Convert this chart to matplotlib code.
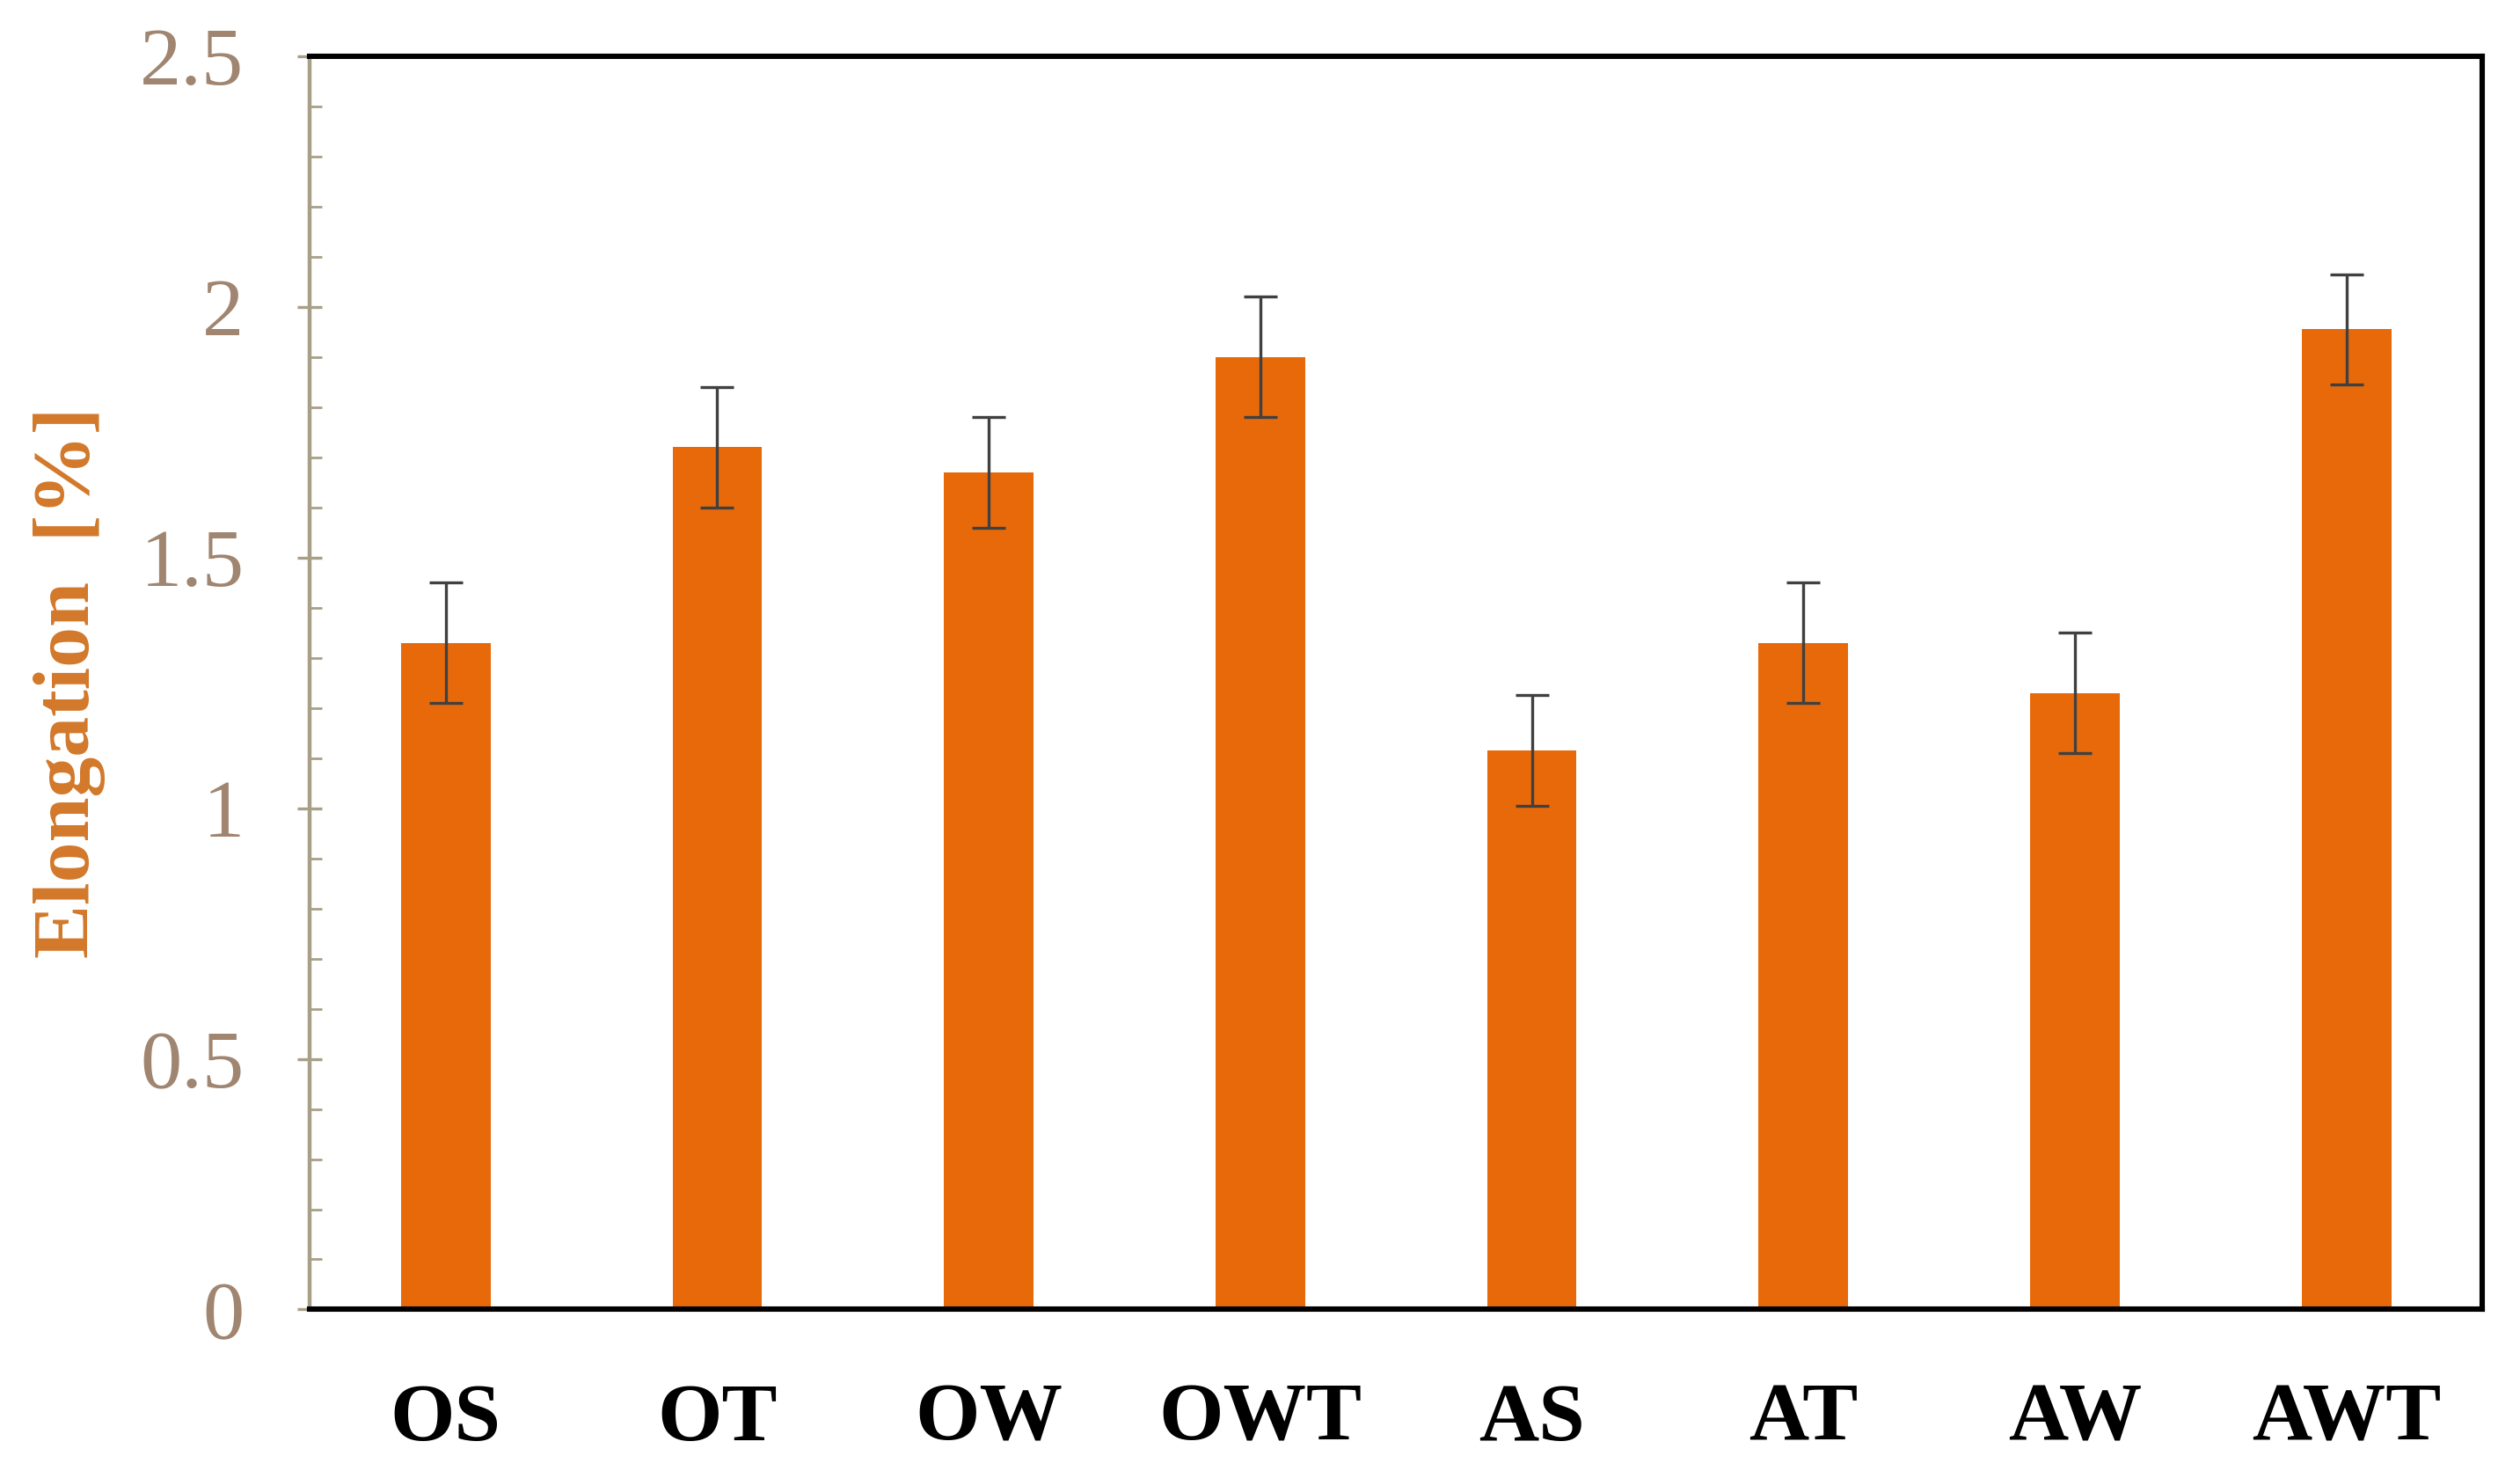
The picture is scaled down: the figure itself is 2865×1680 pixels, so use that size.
import numpy as np
import matplotlib
matplotlib.use('Agg')
import matplotlib.pyplot as plt
from matplotlib.ticker import MultipleLocator

# Data
groups = ['OS', 'OT', 'OW', 'OWT', 'AS', 'AT', 'AW', 'AWT']
elongation = [1.33, 1.72, 1.67, 1.90, 1.115, 1.33, 1.23, 1.955]
errors = [0.12, 0.12, 0.11, 0.12, 0.11, 0.12, 0.12, 0.11]

plt.rcParams['font.family'] = ['Liberation Serif', 'DejaVu Serif']

fig = plt.figure(figsize=(14.325, 8.4), dpi=200)
ax = fig.add_axes([0.123, 0.114, 0.862, 0.848])

x = np.arange(len(groups))
ax.bar(x, elongation, width=0.33, color='#E8690A', zorder=2)
ax.errorbar(x, elongation, yerr=errors, fmt='none', ecolor='#404040',
            elinewidth=1.2, capsize=7, capthick=1.2, zorder=3)

ax.set_xlim(-0.5, len(groups) - 0.5)
ax.set_ylim(0, 2.5)
ax.set_xticks(x)
ax.set_xticklabels(groups, fontsize=34, fontweight='bold', color='black')
ax.tick_params(axis='x', length=0, pad=30)

ax.set_yticks([0, 0.5, 1, 1.5, 2, 2.5])
ax.set_yticklabels(['0', '0.5', '1', '1.5', '2', '2.5'])
ax.yaxis.set_minor_locator(MultipleLocator(0.1))
ax.tick_params(axis='y', which='major', direction='inout', length=10, width=1.2,
               color='#A89F88', labelsize=34, labelcolor='#A08570', pad=22)
ax.tick_params(axis='y', which='minor', direction='in', length=5, width=1.0,
               color='#A89F88')

ax.set_ylabel('Elongation  [%]', fontsize=33, fontweight='bold', color='#D2782A',
              labelpad=14)

for side in ['top', 'right', 'bottom']:
    ax.spines[side].set_color('black')
    ax.spines[side].set_linewidth(2.2)
ax.spines['left'].set_color('#A89F88')
ax.spines['left'].set_linewidth(1.6)

fig.savefig('out.png', dpi=200)
